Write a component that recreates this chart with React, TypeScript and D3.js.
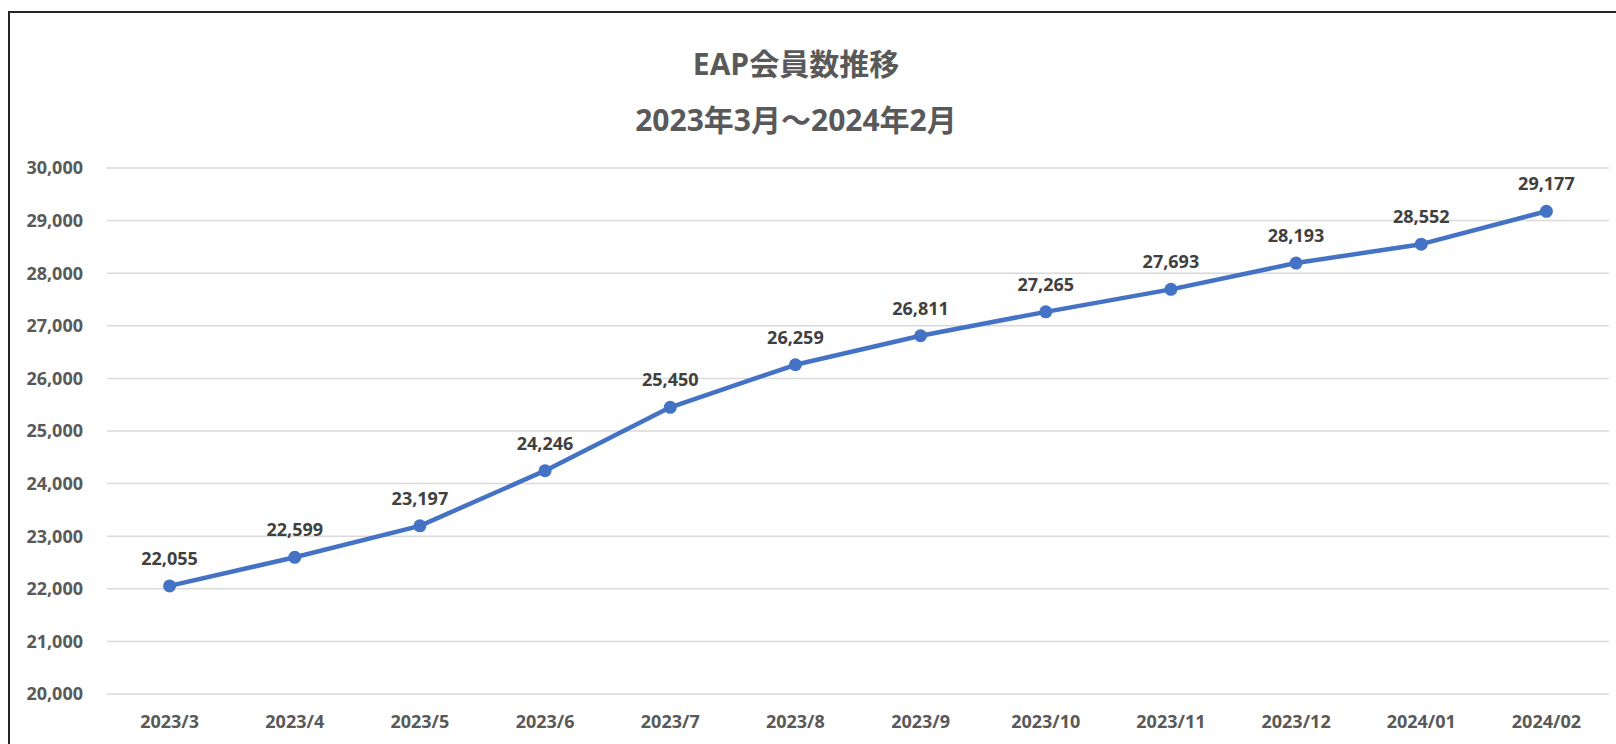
import React, { useEffect, useRef } from "react";
import * as d3 from "d3";

const months = ["2023/3", "2023/4", "2023/5", "2023/6", "2023/7", "2023/8", "2023/9", "2023/10", "2023/11", "2023/12", "2024/01", "2024/02"];
const members = [22055, 22599, 23197, 24246, 25450, 26259, 26811, 27265, 27693, 28193, 28552, 29177];
const yTicks = [20000, 21000, 22000, 23000, 24000, 25000, 26000, 27000, 28000, 29000, 30000];
const titleLines = ["EAP会員数推移", "2023年3月～2024年2月"];

const W = 1616;
const H = 744;
const FONT = "'Open Sans', 'Noto Sans CJK JP', sans-serif";

const App = () => {
  const ref = useRef(null);

  useEffect(() => {
    if (!ref.current) return;
    const svg = d3.select(ref.current);
    svg.selectAll("*").remove();

    // chart frame (right and bottom edges fall outside the picture)
    svg.append("rect")
      .attr("x", 9).attr("y", 12)
      .attr("width", W + 20).attr("height", H + 20)
      .attr("fill", "#fff")
      .attr("stroke", "#262626")
      .attr("stroke-width", 2);

    const x = d3.scaleBand().domain(months).range([107, 1609]);
    const y = d3.scaleLinear().domain([20000, 30000]).range([694, 168]);

    const title = svg.append("g")
      .attr("font-family", FONT)
      .attr("font-weight", "bold")
      .attr("font-size", 30)
      .attr("fill", "#595959")
      .attr("text-anchor", "middle");
    title.selectAll("text").data(titleLines).enter()
      .append("text")
      .attr("x", 796)
      .attr("y", (d, i) => 75 + i * 56)
      .text(d => d);

    // gridlines + y labels
    const grid = svg.append("g");
    grid.selectAll("line").data(yTicks).enter()
      .append("line")
      .attr("x1", 107).attr("x2", 1609)
      .attr("y1", d => y(d)).attr("y2", d => y(d))
      .attr("stroke", "#d9d9d9")
      .attr("stroke-width", 1.5);

    svg.append("g")
      .attr("font-family", FONT)
      .attr("font-weight", "bold")
      .attr("font-size", 18)
      .attr("fill", "#595959")
      .attr("text-anchor", "end")
      .selectAll("text").data(yTicks).enter()
      .append("text")
      .attr("x", 83)
      .attr("y", d => y(d))
      .attr("dy", "0.36em")
      .text(d => d3.format(",")(d));

    // x labels
    svg.append("g")
      .attr("font-family", FONT)
      .attr("font-weight", "bold")
      .attr("font-size", 18)
      .attr("fill", "#595959")
      .attr("text-anchor", "middle")
      .selectAll("text").data(months).enter()
      .append("text")
      .attr("x", d => (x(d) as number) + x.bandwidth() / 2)
      .attr("y", 728)
      .text(d => d);

    const pts = months.map((m, i) => ({ m, v: members[i] }));
    const line = d3.line<any>()
      .x(d => (x(d.m) as number) + x.bandwidth() / 2)
      .y(d => y(d.v));

    svg.append("path")
      .datum(pts)
      .attr("d", line)
      .attr("fill", "none")
      .attr("stroke", "#4472C4")
      .attr("stroke-width", 4.5)
      .attr("stroke-linejoin", "round");

    svg.append("g").selectAll("circle").data(pts).enter()
      .append("circle")
      .attr("cx", d => (x(d.m) as number) + x.bandwidth() / 2)
      .attr("cy", d => y(d.v))
      .attr("r", 6.5)
      .attr("fill", "#4472C4");

    svg.append("g")
      .attr("font-family", FONT)
      .attr("font-weight", "bold")
      .attr("font-size", 18)
      .attr("fill", "#404040")
      .attr("text-anchor", "middle")
      .selectAll("text").data(pts).enter()
      .append("text")
      .attr("x", d => (x(d.m) as number) + x.bandwidth() / 2)
      .attr("y", d => y(d.v) - 21)
      .text(d => d3.format(",")(d.v));
  }, []);

  return (
    <svg ref={ref} width={W} height={H}
      style={{ position: "absolute", left: 0, top: 0, display: "block" }} />
  );
};

export default App;
